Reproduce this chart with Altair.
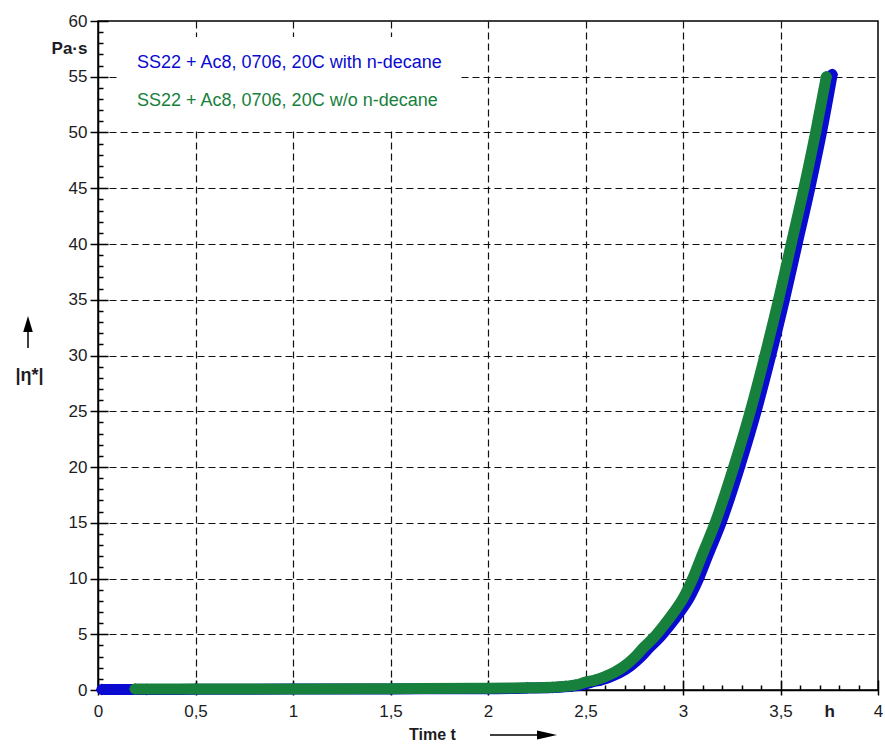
import altair as alt
import pandas as pd

SERIES = ["SS22 + Ac8, 0706, 20C with n-decane", "SS22 + Ac8, 0706, 20C w/o n-decane"]
COLORS = ["#0a0ad0", "#17803d"]

# blue series: with n-decane
blue_t = [0.02, 0.25, 0.5, 1.0, 1.5, 2.0, 2.2, 2.33, 2.43, 2.48, 2.53, 2.58, 2.63, 2.68, 2.73,
          2.78, 2.83, 2.88, 2.93, 2.98, 3.03, 3.08, 3.13, 3.195, 3.29, 3.375, 3.45, 3.52,
          3.585, 3.65, 3.71, 3.765]
blue_v = [0.05, 0.05, 0.06, 0.08, 0.1, 0.12, 0.17, 0.22, 0.33, 0.45, 0.7, 0.9, 1.2, 1.6, 2.15,
          2.9, 3.85, 4.7, 5.75, 6.9, 8.2, 10, 12.2, 15, 20, 25, 30, 35, 40, 45, 50, 55.2]
# green series: w/o n-decane
green_t = [0.19, 0.5, 1.0, 1.5, 2.0, 2.2, 2.3, 2.4, 2.45, 2.5, 2.55, 2.6, 2.65, 2.7, 2.75,
           2.8, 2.85, 2.9, 2.95, 3.0, 3.05, 3.1, 3.165, 3.26, 3.345, 3.42, 3.49, 3.555,
           3.62, 3.68, 3.735]
green_v = [0.1, 0.1, 0.1, 0.12, 0.15, 0.2, 0.22, 0.33, 0.45, 0.7, 0.9, 1.2, 1.6, 2.15, 2.9,
           3.85, 4.7, 5.75, 6.9, 8.2, 10, 12.2, 15, 20, 25, 30, 35, 40, 45, 50, 55]

X_MAJOR = [0, 0.5, 1, 1.5, 2, 2.5, 3, 3.5, 3.75, 4]
Y_MAJOR = [0, 5, 10, 15, 20, 25, 30, 35, 40, 45, 50, 55, 57.5, 60]
X_MINOR = [round(i * 0.1, 1) for i in range(41)]
Y_MINOR = list(range(61))

df = pd.concat([
    pd.DataFrame({"t": blue_t, "v": blue_v, "series": SERIES[0]}),
    pd.DataFrame({"t": green_t, "v": green_v, "series": SERIES[1]}),
], ignore_index=True)

W, H = 780, 669
FONT = "Liberation Sans"
TXT = "#1c1c24"

xscale = alt.Scale(domain=[0, 4], nice=False, zero=False)
yscale = alt.Scale(domain=[0, 60], nice=False, zero=False)

x_axis = alt.Axis(
    values=X_MAJOR, orient="bottom", title="Time t",
    labelExpr="datum.value == 3.75 ? 'h' : replace(format(datum.value, '~g'), '.', ',')",
    labelFont=FONT, labelFontSize=17, labelColor=TXT, labelPadding=8,
    labelFontWeight={"condition": {"test": "datum.value == 3.75", "value": "bold"}, "value": "normal"},
    labelFlush=False, labelOverlap=False,
    tickSize=5, tickColor="black", tickWidth=1.5,
    tickOpacity={"condition": {"test": "datum.value == 3.75", "value": 0}, "value": 1},
    domain=True, domainColor="black", domainWidth=1.5,
    grid=True, gridColor="#111111", gridDash=[7, 4], gridWidth=1.2,
    gridOpacity={"condition": {"test": "datum.value == 3.75 || datum.value == 0 || datum.value == 4", "value": 0}, "value": 1},
    titleFont=FONT, titleFontSize=16, titleFontWeight="bold", titleColor=TXT,
    titleX=334, titleY=44, titleAlign="center", titleBaseline="middle", titleAnchor="start",
)
y_axis = alt.Axis(
    values=Y_MAJOR, orient="left", title="|η*|",
    labelExpr="datum.value == 57.5 ? 'Pa·s' : format(datum.value, '~g')",
    labelFont=FONT, labelFontSize=17, labelColor=TXT, labelPadding=3,
    labelFontWeight={"condition": {"test": "datum.value == 57.5", "value": "bold"}, "value": "normal"},
    labelFlush=False, labelOverlap=False,
    tickSize=8, tickColor="black", tickWidth=1.5,
    tickOpacity={"condition": {"test": "datum.value == 57.5", "value": 0}, "value": 1},
    domain=True, domainColor="black", domainWidth=1.5,
    grid=True, gridColor="#111111", gridDash=[7, 4], gridWidth=1.2,
    gridOpacity={"condition": {"test": "datum.value == 57.5 || datum.value == 0 || datum.value == 60", "value": 0}, "value": 1},
    titleFont=FONT, titleFontSize=18, titleFontWeight="bold", titleColor=TXT, titleAngle=0,
    titleX=-69, titleY=354, titleAlign="center", titleBaseline="middle", titleAnchor="start",
)

color = alt.Color(
    "series:N",
    scale=alt.Scale(domain=SERIES, range=COLORS),
    legend=alt.Legend(
        title=None, orient="none", legendX=20, legendY=16, padding=17,
        fillColor="white", strokeColor="white",
        symbolSize=0, symbolOpacity=0, symbolStrokeWidth=0,
        labelOffset=alt.ExprRef(expr="-16"),
        labelFont=FONT, labelFontSize=18, labelLimit=0, rowPadding=20,
        labelColor=alt.ExprRef(expr=f"indexof(datum.label, 'with') >= 0 ? '{COLORS[0]}' : '{COLORS[1]}'"),
    ),
)

X = alt.X("t:Q", scale=xscale, axis=x_axis)
Y = alt.Y("v:Q", scale=yscale, axis=y_axis)


def series_layers(name):
    base = alt.Chart(df).transform_filter(alt.datum.series == name)
    line = base.mark_line(strokeWidth=11, strokeCap="round", strokeJoin="round",
                          interpolate="monotone").encode(x=X, y=Y, color=color, order="t:Q")
    pts = base.mark_point(shape="diamond", filled=True, size=144, opacity=1).encode(
        x=X, y=Y, color=color)
    return [line, pts]


data_layer = alt.layer(*(series_layers(SERIES[0]) + series_layers(SERIES[1])))

inner_ticks = alt.Chart(df).mark_point(opacity=0).encode(
    x=alt.X("t:Q", scale=xscale, axis=alt.Axis(
        values=X_MINOR, orient="bottom", title=None, labels=False, grid=False, domain=False,
        tickColor="black", tickWidth=1.5,
        tickSize=alt.ExprRef(expr="abs(datum.value*2 - round(datum.value*2)) < 0.001 ? -10 : -5"))),
    y=alt.Y("v:Q", scale=yscale, axis=alt.Axis(
        values=Y_MINOR, orient="left", title=None, labels=False, grid=False, domain=False,
        tickColor="black", tickWidth=1.5,
        tickSize=alt.ExprRef(expr="datum.value % 5 == 0 ? -10 : -5"))),
)

one = pd.DataFrame({"a": [0]})
x_arrow = alt.Chart(one).mark_rule(color="black", strokeWidth=1.5).encode(
    x=alt.value(392), x2=alt.value(452), y=alt.value(714))
x_head = alt.Chart(one).mark_point(shape="M-1,-0.45L1,0L-1,0.45Z", filled=True, size=400,
                                   color="black", opacity=1).encode(x=alt.value(449), y=alt.value(714))
y_arrow = alt.Chart(one).mark_rule(color="black", strokeWidth=1.5).encode(
    x=alt.value(-70), y=alt.value(303), y2=alt.value(327))
y_head = alt.Chart(one).mark_point(shape="M-0.6,1L0,-1L0.6,1Z", filled=True, size=256,
                                   color="black", opacity=1).encode(x=alt.value(-70), y=alt.value(303))

chart = alt.layer(data_layer, inner_ticks, x_arrow, x_head, y_arrow, y_head).resolve_scale(
    x="independent", y="independent"
).properties(
    width=W, height=H,
    autosize=alt.AutoSizeParams(type="none"),
    padding={"left": 98, "top": 21, "right": 7, "bottom": 54},
    background="white",
).configure_view(stroke="black", strokeWidth=1.5)

chart.save("out.html", embed_options={"renderer": "svg", "actions": False})
